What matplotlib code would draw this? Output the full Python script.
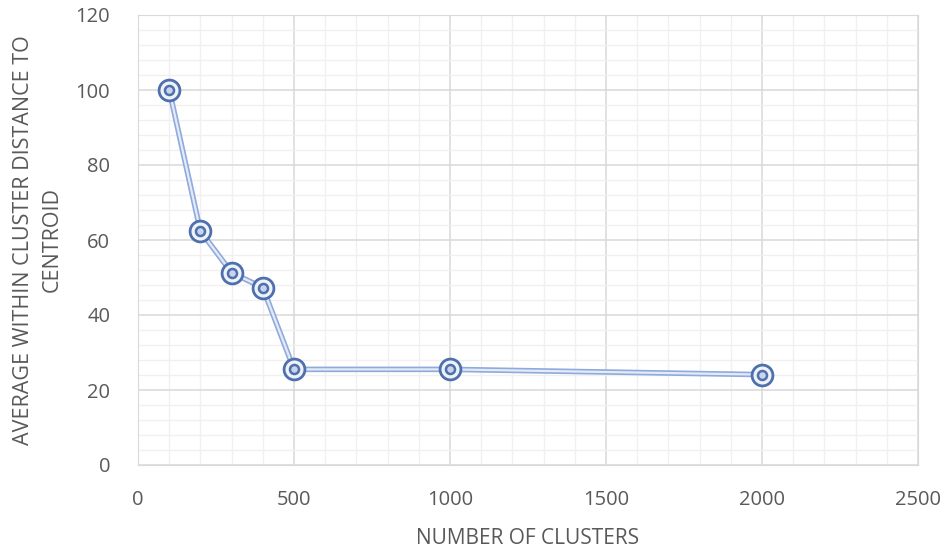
import matplotlib
matplotlib.use("Agg")
import matplotlib.pyplot as plt
from matplotlib.ticker import MultipleLocator

clusters = [100, 200, 300, 400, 500, 1000, 2000]
avg_distance = [100.1, 62.4, 51.3, 47.3, 25.5, 25.5, 24.1]
x_label = "NUMBER OF CLUSTERS"
y_label = "AVERAGE WITHIN CLUSTER DISTANCE TO\nCENTROID"

fam = ["Open Sans", "DejaVu Sans"]
grey = "#595959"

fig = plt.figure(figsize=(9.49, 5.5), dpi=100)
ax = fig.add_axes([138/949, 1-465/550, (918-138)/949, (465-15)/550])

ax.set_xlim(0, 2500)
ax.set_ylim(0, 120)
ax.xaxis.set_major_locator(MultipleLocator(500))
ax.xaxis.set_minor_locator(MultipleLocator(100))
ax.yaxis.set_major_locator(MultipleLocator(20))
ax.yaxis.set_minor_locator(MultipleLocator(4))
ax.grid(which="major", color="#d9d9d9", lw=1.1, zorder=0)
ax.grid(which="minor", color="#f0f0f0", lw=1.0, zorder=0)
ax.set_axisbelow(True)
for s in ax.spines.values():
    s.set_color("#d9d9d9")
ax.tick_params(which="both", length=0)
ax.tick_params(axis="x", labelsize=14.5, labelcolor=grey, pad=18)
ax.tick_params(axis="y", labelsize=14.5, labelcolor=grey, pad=20)
for lab in ax.get_xticklabels() + ax.get_yticklabels():
    lab.set_family(fam)

# compound line
ax.plot(clusters, avg_distance, color="#8faadc", lw=4.0, zorder=3, solid_joinstyle="round")
ax.plot(clusters, avg_distance, color="#e4ebf7", lw=1.6, zorder=4, solid_joinstyle="round")
# markers
ax.plot(clusters, avg_distance, ls="none", marker="o", ms=15, mfc="#eef2f9",
        mec="#4f6fad", mew=2.0, zorder=5)
ax.plot(clusters, avg_distance, ls="none", marker="o", ms=6.5, mfc="#c9d5ec",
        mec="#4f6fad", mew=1.8, zorder=6)

ax.set_xlabel(x_label, fontsize=15, color=grey, family=fam)
ax.xaxis.set_label_coords(0.5, -(538 - 465) / 450, transform=ax.transAxes)
ax.xaxis.label.set_va("center")
ax.set_ylabel(y_label, fontsize=15.5, color=grey, family=fam, linespacing=1.5)
ax.yaxis.set_label_coords(-(138 - 38) / 780, 0.5, transform=ax.transAxes)
ax.yaxis.label.set_va("center")

fig.savefig("out.png", dpi=100)
